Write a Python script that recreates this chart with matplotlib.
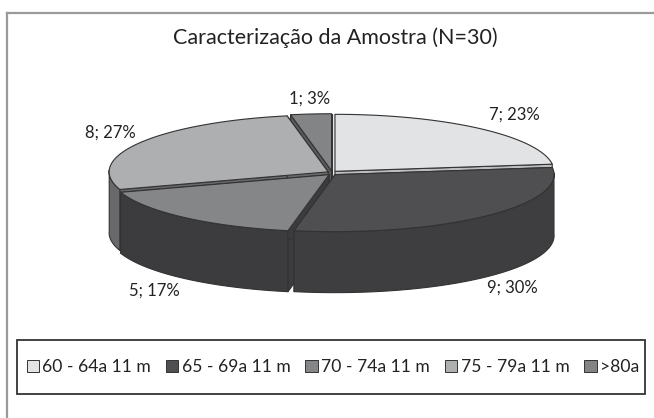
import numpy as np
import matplotlib
matplotlib.use('Agg')
import matplotlib.pyplot as plt
from matplotlib.patches import Polygon, Patch, Rectangle

# Data
counts = [7, 9, 5, 8, 1]
percents = [23, 30, 17, 27, 3]
categories = ['60 - 64a 11 m', '65 - 69a 11 m', '70 - 74a 11 m', '75 - 79a 11 m', '>80a']
title = 'Caracterização da Amostra (N=30)'

top_colors = ['#e2e3e5', '#4f4f51', '#858688', '#aeafb1', '#838486']
wall_colors = ['#bdbdbf', '#3e3e40', '#3c3c3e', '#69696b', '#5a5a5c']
label_pos = [(514, 115), (512, 288), (154, 291), (110, 133), (310, 99)]

plt.rcParams['font.family'] = ['Lato', 'DejaVu Sans']

# everything in pixel units of the picture
fig = plt.figure(figsize=(6.54, 4.18), dpi=100)
ax = fig.add_axes([0, 0, 1, 1])
ax.set_xlim(0, 654)
ax.set_ylim(418, 0)
ax.axis('off')

cx, cy, rx, ry, depth, explode = 332, 173, 219, 57, 61, 4.5

# grey frame round the chart
ax.plot([7, 7], [418, 13], color='#9a9a9a', lw=1.6)
ax.plot([7, 654], [13, 13], color='#9a9a9a', lw=1.6)

ax.text(335, 38, title, ha='center', va='center', fontsize=15.5, color='#222222')


def draw_slice(i, start, stop):
    mid = (start + stop) / 2
    ox = cx + explode * np.sin(mid)
    oy = cy - explode * np.cos(mid) * 0.5
    t = np.linspace(start, stop, 80)
    ex = ox + rx * np.sin(t)
    ey = oy - ry * np.cos(t)
    arc = np.column_stack([ex, ey])
    center = np.array([[ox, oy]])
    edge = dict(edgecolor='#333333', lw=0.8, joinstyle='round')
    # cut faces go first, the outer wall hides what is behind it
    for a in (arc[0], arc[-1]):
        face = np.array([[ox, oy], a, a + [0, depth], [ox, oy + depth]])
        ax.add_patch(Polygon(face, facecolor=wall_colors[i], **edge))
    # outer wall, only the part facing the viewer
    front = np.cos(t) <= 0.05
    if front.any():
        wall = np.vstack([arc[front], arc[front][::-1] + [0, depth]])
        ax.add_patch(Polygon(wall, facecolor=wall_colors[i], **edge))
    ax.add_patch(Polygon(np.vstack([center, arc]), facecolor=top_colors[i], **edge))


fractions = np.array(percents) / sum(percents)
edges = np.concatenate([[0], np.cumsum(fractions)]) * 2 * np.pi

# back slices first
for i in [4, 3, 0, 2, 1]:
    draw_slice(i, edges[i], edges[i + 1])

for i in range(len(counts)):
    x, y = label_pos[i]
    ax.text(x, y, f'{counts[i]}; {percents[i]}%', ha='center', va='center',
            fontsize=12, color='#222222')

# legend box
ax.add_patch(Rectangle((17, 340), 628, 54, facecolor='white', edgecolor='#333333', lw=1.3))
handles = [Patch(facecolor=c, edgecolor='#333333', lw=0.7) for c in top_colors]
ax.legend(handles, categories, loc='center', bbox_to_anchor=(333 / 654, 1 - 367 / 418),
          ncol=5, frameon=False, fontsize=12.6, handlelength=0.7, handleheight=0.7,
          handletextpad=0.2, columnspacing=0.85, labelcolor='#222222')

fig.savefig('out.png', dpi=100)
